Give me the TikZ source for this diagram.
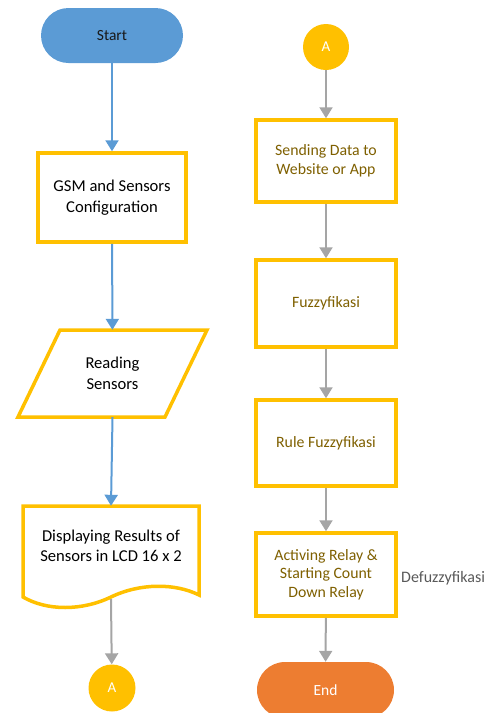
\documentclass[tikz,border=0pt]{standalone}
\usepackage{fontspec}
\setmainfont{Carlito}
\usetikzlibrary{arrows.meta}
\definecolor{blueF}{HTML}{5B9BD5}
\definecolor{goldF}{HTML}{FFC000}
\definecolor{orangeF}{HTML}{ED7D31}
\definecolor{grayA}{HTML}{A5A5A5}
\definecolor{txtR}{HTML}{7F6000}
\definecolor{txtG}{HTML}{595959}
\tikzset{
  boxL/.style={draw=goldF, line width=3.5pt, fill=white, inner sep=0pt, align=center,
    font=\fontsize{16.6}{20.5}\selectfont},
  boxR/.style={draw=goldF, line width=3.5pt, fill=white, inner sep=0pt, align=center,
    text=txtR, font=\fontsize{15.8}{18.5}\selectfont, minimum width=140pt},
  plain/.style={inner sep=0pt, align=center, font=\fontsize{16.6}{20.5}\selectfont},
  term/.style={inner sep=0pt, minimum width=142pt, minimum height=55pt, rounded corners=27.5pt,
    font=\fontsize{15.5}{18}\selectfont},
  conn/.style={circle, fill=goldF, minimum size=47pt, inner sep=0pt, text=white,
    font=\fontsize{15}{18}\selectfont},
  barrow/.style={draw=blueF, line width=2pt, -{Triangle[width=13pt,length=11pt]}},
  garrow/.style={draw=grayA, line width=2pt, -{Triangle[width=13pt,length=11pt]}},
  shapeline/.style={draw=goldF, line width=3.5pt, line join=miter}
}
\begin{document}
\begin{tikzpicture}[x=1pt, y=-1pt]
\useasboundingbox (0,0) rectangle (488,713);
\clip (0,0) rectangle (488,713);
% left column
\node[term, fill=blueF, text=black!90] (start) at (112,35.5) {Start};
\node[boxL, minimum width=148pt, minimum height=89pt] (gsm) at (112,197.5) {GSM and Sensors\\Configuration};
\draw[shapeline] (60,330) -- (207,330) -- (165,417) -- (18,417) -- cycle;
\node[plain, minimum width=147pt, minimum height=87pt] (read) at (112.5,373.5) {Reading\\Sensors};
\draw[shapeline] (23,506) -- (199,506) -- (199,595)
  .. controls (175,583) and (140,583) .. (111,597)
  .. controls (82,611) and (47,611) .. (23,597) -- cycle;
\node[plain, minimum height=80pt, minimum width=176pt] (doc) at (111,546) {Displaying Results of\\Sensors in LCD 16 x 2};
\coordinate (docb) at (111,599);
\node[conn] (aL) at (112,688) {A};
\draw[barrow] (start) -- (gsm);
\draw[barrow] (gsm) -- (read);
\draw[barrow] (read.south) -- (doc.north);
\draw[garrow] (docb) -- (aL);
% right column
\node[conn, minimum size=46pt] (aR) at (326,47) {A};
\node[boxR, minimum height=82pt] (b1) at (326,161) {Sending Data to\\Website or App};
\node[boxR, minimum height=87pt] (b2) at (326,303.5) {Fuzzyfikasi};
\node[boxR, minimum height=86pt] (b3) at (326,443) {Rule Fuzzyfikasi};
\node[boxR, minimum height=83pt] (b4) at (326,574.5) {Activing Relay \&\\Starting Count\\Down Relay};
\node[term, fill=orangeF, text=white, minimum width=137pt, minimum height=56pt, rounded corners=28pt] (end) at (325.5,690) {End};
\node[plain, anchor=west, text=txtG, font=\fontsize{16}{18}\selectfont] (defz) at (401,578) {Defuzzyfikasi};
\draw[garrow] (aR) -- (b1);
\draw[garrow] (b1) -- (b2);
\draw[garrow] (b2) -- (b3);
\draw[garrow] (b3) -- (b4);
\draw[garrow] (b4) -- (end);
\end{tikzpicture}
\end{document}
